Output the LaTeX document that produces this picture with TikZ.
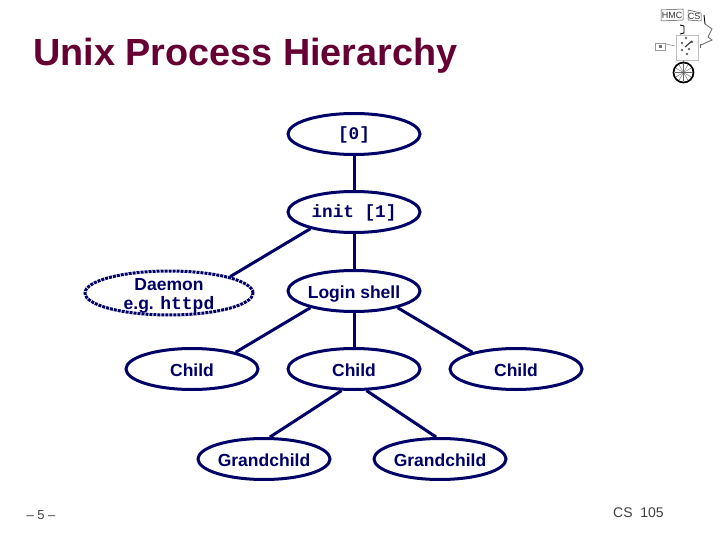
\documentclass[tikz,border=0pt]{standalone}
\usepackage{fontspec}
\setmainfont{Liberation Sans}
\setmonofont{Liberation Mono}
\usetikzlibrary{shapes.geometric}
\definecolor{navyink}{RGB}{0,0,102}
\definecolor{titleink}{RGB}{102,0,51}
\tikzset{
  x=1pt,y=-1pt,
  proc/.style={ellipse,draw=navyink,line width=3pt,minimum width=132pt,minimum height=41pt,inner sep=0pt,text=navyink,font=\fontsize{17.5}{20}\selectfont\bfseries,align=center,text height=14pt,text depth=0pt},
  monotext/.style={font=\fontsize{17.7}{20}\selectfont\ttfamily\bfseries,text height=12pt},
  link/.style={draw=navyink,line width=3pt},
  logoline/.style={draw=black!70,line width=0.5pt},
}
\begin{document}
\begin{tikzpicture}
\useasboundingbox (0,0) rectangle (720,540);
\fill[white] (0,0) rectangle (720,540);
\node[anchor=west,text=titleink,font=\fontsize{37.8}{40}\selectfont\bfseries,inner sep=0pt] (title) at (33,56) {Unix Process Hierarchy};

\node[proc,monotext] (p0) at (354,134) {[0]};
\node[proc,monotext] (init) at (354,212) {init [1]};
\node[ellipse,draw=navyink,densely dotted,minimum width=168pt,minimum height=44pt,line width=3pt,inner sep=0pt,
  label={[text=navyink,align=center,inner sep=0pt,yshift=-3pt,font=\fontsize{17.5}{19.5}\selectfont\bfseries]center:{Daemon\\e.g. {\fontsize{18}{19.5}\selectfont\ttfamily httpd}}}] (daemon) at (169,293) {};
\node[proc] (login) at (354,291) {Login shell};
\node[proc] (c1) at (192,369) {Child};
\node[proc] (c2) at (354,369) {Child};
\node[proc] (c3) at (516,369) {Child};
\node[proc] (g1) at (264,459) {Grandchild};
\node[proc] (g2) at (440,459) {Grandchild};

\draw[link] (p0) -- (init);
\draw[link] (init) -- (login);
\draw[link] (init.201) -- (daemon.15);
\draw[link] (login.201) -- (c1.21);
\draw[link] (login) -- (c2);
\draw[link] (login.339) -- (c3.159);
\draw[link] (c2.240) -- (g1.75);
\draw[link] (c2.300) -- (g2.100);

\node[anchor=center,text=black!75,font=\fontsize{13}{15}\selectfont,inner sep=0pt] (pg) at (41,515) {– 5 –};
\node[anchor=center,text=black!75,font=\fontsize{14}{16}\selectfont,inner sep=0pt] (cs) at (638.5,513) {CS\ \ 105};

% logo
\node[text=black!80,font=\fontsize{9}{10}\selectfont,inner sep=0pt] (hmc) at (672,15) {HMC};
\node[text=black!80,font=\fontsize{9}{10}\selectfont,inner sep=0pt] (csl) at (694,16) {CS};
\draw[logoline] (661,10) -- (683,9) -- (683,20) -- (661,21) -- cycle;
\draw[logoline] (688,10) -- (701,13) -- (701,21) -- (688,20) -- cycle;
\draw[black,line width=0.9pt] (704,15) -- (705,24);
\draw[black,line width=0.9pt] (680,25) -- (684,26) -- (684,33) -- (680,34);
\draw[black!25,line width=0.4pt] (676,35) rectangle (698,60);
\foreach \px/\py in {682/43, 686/38, 692/42, 689/49, 682/50, 687/54} \fill[black!60] (\px,\py) circle (1.3);
\draw[black!75,line width=1.2pt] (685,47) -- (692,41);
\draw[black!40,line width=0.6pt] (655,43) rectangle (665,50);
\fill[black!55] (659,45) rectangle (662,48);
\draw[black!50,line width=0.5pt] (666,44) -- (675,46);
\draw[black!60,line width=0.8pt] (705,24) -- (712,29) -- (708,37) -- (712,40) -- (701,45);
\draw[black!60,line width=0.8pt] (700,44) -- (700,48);
\draw[black!40,line width=0.5pt] (683,60) -- (683,63);
\draw[black,line width=1.7pt,fill=white] (683.5,72.5) circle (10);
\foreach \a in {0,30,...,150} \draw[black!60,line width=0.4pt] (683.5,72.5) +(\a:9) -- +(\a+180:9);
\end{tikzpicture}
\end{document}
